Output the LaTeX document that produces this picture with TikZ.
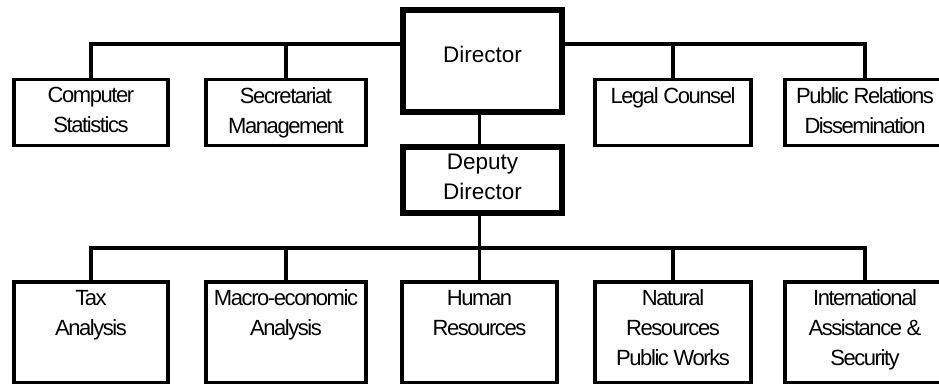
\documentclass[tikz,border=0pt]{standalone}
\usepackage{fontspec}
\setmainfont{Liberation Sans}
\newfontfamily\tightfont[LetterSpace=-6.5]{Liberation Sans}
\usetikzlibrary{positioning}

\begin{document}
\begin{tikzpicture}[x=1pt,y=-1pt,font=\fontsize{22}{30}\tightfont,
  unitbox/.style={draw,line width=3.6pt,fill=white,inner sep=0pt,minimum height=66pt},
  lowbox/.style={unitbox,minimum height=101pt},
  headbox/.style={unitbox,line width=6pt,minimum width=159pt},
  boxtext/.style={anchor=north,align=center,inner sep=0pt,yshift=-9.5pt},
  headtext/.style={boxtext,font=\fontsize{22.5}{29.5}\selectfont},
  link/.style={line width=3.6pt}]
  \useasboundingbox (0,0) rectangle (939,383);
  \clip (0,0) rectangle (939,383);
  % director and deputy
  \node[headbox,minimum height=102pt,label={[headtext,yshift=-29pt]north:Director}] (dir) at (482.5,61) {};
  \node[headbox,label={[headtext,yshift=-0.5pt]north:Deputy\\Director}] (dep) at (482.5,180) {};
  % staff units (top row)
  \foreach \nm/\cx/\w/\txt in {comp/91/154/{Computer\\Statistics}, sec/286/160/{Secretariat\\Management}, legal/673/156/{Legal Counsel}, pr/865/160/{Public Relations\\Dissemination}}{
     \node[unitbox,minimum width=\w pt,label={[boxtext]north:\txt}] (\nm) at (\cx,112.3) {};
  }
  % divisions (bottom row)
  \foreach \nm/\cx/\w/\txt in {tax/91/154/{Tax\\Analysis}, mac/286/160/{Macro-economic\\Analysis}, hr/479.5/155/{Human\\Resources}, nat/673/156/{Natural\\Resources\\Public Works}, intl/865/160/{International\\Assistance \&\\Security}}{
     \node[lowbox,minimum width=\w pt,label={[boxtext]north:\txt}] (\nm) at (\cx,332.5) {};
  }
  % connectors
  \coordinate (upbus) at (482.5,44);
  \coordinate (lowbus) at (479.5,248);
  \draw[link] (dir.west |- upbus) -| (comp.north);
  \draw[link] (sec.north) -- (sec.north |- upbus);
  \draw[link] (dir.east |- upbus) -| (pr.north);
  \draw[link] (legal.north) -- (legal.north |- upbus);
  \draw[link] (dir.south -| hr.north) -- (dep.north -| hr.north);
  \draw[link] (dep.south -| hr.north) -- (hr.north);
  \draw[link] (tax.north) |- (lowbus) -| (intl.north);
  \draw[link] (mac.north) -- (mac.north |- lowbus);
  \draw[link] (nat.north) -- (nat.north |- lowbus);
\end{tikzpicture}
\end{document}
